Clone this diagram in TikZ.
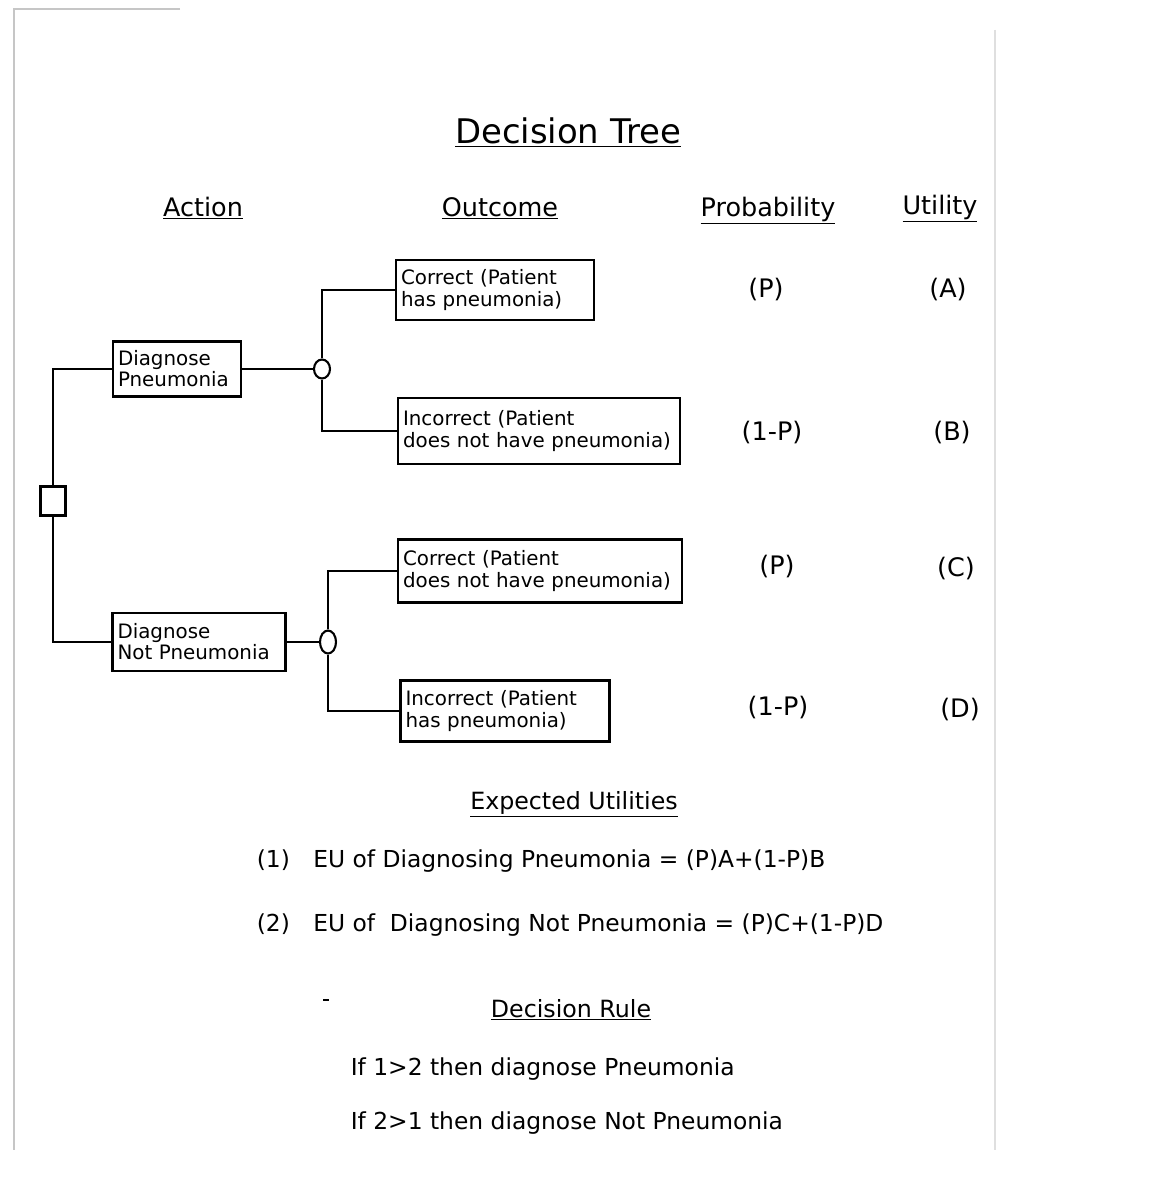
\documentclass[tikz,border=0pt]{standalone}
\usepackage{fontspec}
\setmainfont{DejaVu Sans}
\usetikzlibrary{positioning, shapes.geometric}

\begin{document}
\begin{tikzpicture}[
    x=0.02cm, y=-0.02cm, % work in pixels of the scanned page
    line width=1.1pt,
    box/.style={draw, line width=1.3pt, align=left, inner xsep=0.1cm, inner ysep=0pt,
        font=\fontsize{11.3}{12}\selectfont}, % Style for the boxes
    chance/.style={draw, line width=1.2pt, ellipse, fill=white, inner sep=0pt, minimum width=0.32cm}, % chance node
    decide/.style={draw, line width=1.3pt, rectangle, fill=white, inner sep=0pt, minimum width=0.5cm, minimum height=0.58cm}, % decision node
    head/.style={font=\fontsize{14.5}{16}\selectfont, anchor=base}, % column headers
    val/.style={font=\fontsize{14.5}{16}\selectfont}, % probability and utility
    eq/.style={font=\fontsize{13.3}{15}\selectfont, anchor=base west}, % lines at the bottom
    edge/.style={gray!45, line width=0.8pt} % page edges of the scan
]

    % page edges
    \draw[edge] (180,9) -- (14,9) -- (14,1150);
    \draw[edge, gray!25] (995,30) -- (995,1150);

    % Title and headers
    \node[font=\fontsize{19.3}{21}\selectfont, anchor=base] (title) at (568,143) {\underline{Decision Tree}};
    \node[head] (action) at (203,216) {\underline{Action}};
    \node[head] (outcome) at (500,216) {\underline{Outcome}};
    \node[head] (prob) at (768,216) {\underline{Probability}};
    \node[head] (util) at (940,214) {\underline{Utility}};

    % Decision node and actions
    \node[decide] (dec) at (53,501) {};
    \node[box, text width=2.36cm, minimum height=1.1cm] (pneu) at (177,369) {Diagnose\\Pneumonia};
    \node[box, text width=3.26cm, minimum height=1.16cm] (notpneu) at (199,642) {Diagnose\\Not Pneumonia};

    % Chance nodes
    \node[chance, minimum height=0.38cm] (c1) at (322,369) {};
    \node[chance, minimum height=0.46cm] (c2) at (328,642) {};

    % Outcomes
    \node[box, text width=3.76cm, minimum height=1.2cm] (o1) at (495,290) {Correct (Patient\\has pneumonia)};
    \node[box, text width=5.44cm, minimum height=1.32cm] (o2) at (539,431) {Incorrect (Patient\\does not have pneumonia)};
    \node[box, text width=5.48cm, minimum height=1.26cm] (o3) at (540,571) {Correct (Patient\\does not have pneumonia)};
    \node[box, text width=3.98cm, minimum height=1.22cm] (o4) at (505,711) {Incorrect (Patient\\has pneumonia)};

    % Branches
    \draw (dec.north) |- (pneu.west);
    \draw (dec.south) |- (notpneu.west);
    \draw (pneu.east) -- (c1.west);
    \draw (notpneu.east) -- (c2.west);
    \draw (c1.north) |- (o1.west);
    \draw (c1.south) |- (o2.west);
    \draw (c2.north) |- (o3.west);
    \draw (c2.south) |- (o4.west);

    % Probability and utility columns
    \foreach \name/\x/\y/\txt in {p1/766/290/(P), p2/772/433/(1-P), p3/777/567/(P), p4/778/708/(1-P),
        u1/948/290/(A), u2/952/433/(B), u3/956/569/(C), u4/960/710/(D)} {
        \node[val] (\name) at (\x,\y) {\txt};
    }

    % Expected utilities
    \node[font=\fontsize{13.5}{15}\selectfont, anchor=base] (eu) at (574,809) {\underline{Expected Utilities}};
    \node[eq] (eu1) at (250,867) {(1)\quad EU of Diagnosing Pneumonia = (P)A+(1-P)B};
    \node[eq] (eu2) at (250,931) {(2)\quad EU of\ \ Diagnosing Not Pneumonia = (P)C+(1-P)D};

    % Decision rule
    \draw[line width=1.2pt] (323,1000) -- (329,1000);
    \node[font=\fontsize{13.5}{15}\selectfont, anchor=base] (rule) at (571,1017) {\underline{Decision Rule}};
    \node[eq] (r1) at (344,1075) {If 1>2 then diagnose Pneumonia};
    \node[eq] (r2) at (344,1129) {If 2>1 then diagnose Not Pneumonia};

    \useasboundingbox (0,0) rectangle (1168,1186);
\end{tikzpicture}
\end{document}
